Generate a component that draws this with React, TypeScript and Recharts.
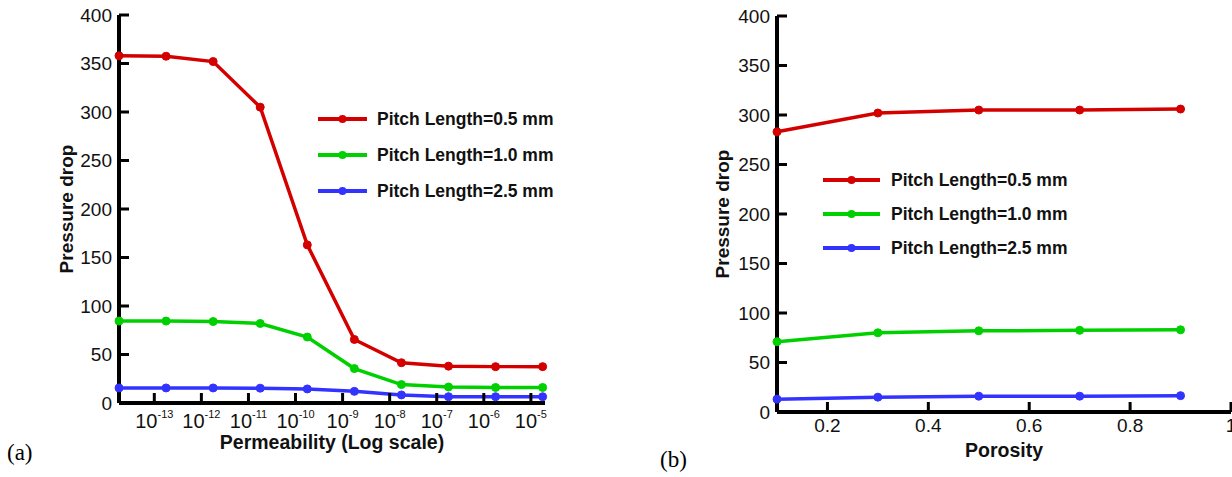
import { LineChart, Line, XAxis, YAxis, Legend, Label } from 'recharts';

const FONT = '"Liberation Sans", Arial, Helvetica, sans-serif';

// (a) permeability, stored as log10 exponent
const permExponent = [-13.75, -12.75, -11.75, -10.75, -9.75, -8.75, -7.75, -6.75, -5.75, -4.75];
const permPitch05 = [358, 357.5, 352, 305, 163, 65.5, 41.5, 38, 37.5, 37.5];
const permPitch10 = [84.5, 84.5, 84, 82, 68, 35.5, 19, 16.5, 16, 16];
const permPitch25 = [15.5, 15.5, 15.5, 15.3, 14.5, 12, 8.3, 6.5, 6.5, 6.5];
const permTicks = [-13, -12, -11, -10, -9, -8, -7, -6, -5];

// (b) porosity
const porosity = [0.1, 0.3, 0.5, 0.7, 0.9];
const poroPitch05 = [283, 302, 305, 305, 306];
const poroPitch10 = [71, 80, 82, 82.5, 83];
const poroPitch25 = [13, 15, 16, 16, 16.5];
const poroTicks = [0.2, 0.4, 0.6, 0.8, 1];

const pressureTicks = [0, 50, 100, 150, 200, 250, 300, 350, 400];

const SERIES = [
  { key: 'p05', name: 'Pitch Length=0.5 mm', color: '#d40000' },
  { key: 'p10', name: 'Pitch Length=1.0 mm', color: '#00d000' },
  { key: 'p25', name: 'Pitch Length=2.5 mm', color: '#3333ff' },
];

const permData = permExponent.map((k, i) => ({
  k,
  p05: permPitch05[i],
  p10: permPitch10[i],
  p25: permPitch25[i],
}));

const poroData = porosity.map((k, i) => ({
  k,
  p05: poroPitch05[i],
  p10: poroPitch10[i],
  p25: poroPitch25[i],
}));

const YTick = ({ x, y, payload }: any) => (
  <g>
    <line x1={x} x2={x + 10} y1={y} y2={y} stroke="#000" strokeWidth={3} />
    <text
      x={x - 7}
      y={y}
      textAnchor="end"
      dominantBaseline="central"
      fontSize={19}
      fontFamily={FONT}
      fill="#111"
    >
      {payload.value}
    </text>
  </g>
);

const PermTick = ({ x, y, payload }: any) => (
  <g>
    <line x1={x} x2={x} y1={y} y2={y - 10} stroke="#000" strokeWidth={3} />
    <text x={x} y={y + 25} textAnchor="middle" fontSize={20} fontFamily={FONT} fill="#111">
      <tspan>10</tspan>
      <tspan dy={-10} fontSize={11}>
        {payload.value}
      </tspan>
    </text>
  </g>
);

const PoroTick = ({ x, y, payload }: any) => (
  <g>
    <line x1={x} x2={x} y1={y} y2={y - 10} stroke="#000" strokeWidth={3} />
    <text
      x={x}
      y={y + 13}
      textAnchor="middle"
      dominantBaseline="central"
      fontSize={19}
      fontFamily={FONT}
      fill="#111"
    >
      {payload.value === 1 ? '1' : payload.value.toFixed(1)}
    </text>
  </g>
);

const yLabel = (dx: number) => (props: any) => {
  const { x, y, height } = props.viewBox;
  const cx = x + dx;
  const cy = y + height / 2;
  return (
    <text
      x={cx}
      y={cy}
      transform={`rotate(-90 ${cx} ${cy})`}
      textAnchor="middle"
      dominantBaseline="central"
      fontSize={19}
      fontWeight="bold"
      fontFamily={FONT}
      fill="#111"
    >
      Pressure drop
    </text>
  );
};

const xLabel = (text: string, dy: number) => (props: any) => {
  const { x, y, width } = props.viewBox;
  return (
    <text
      x={x + width / 2}
      y={y + dy}
      textAnchor="middle"
      dominantBaseline="central"
      fontSize={19.5}
      fontWeight="bold"
      fontFamily={FONT}
      fill="#111"
    >
      {text}
    </text>
  );
};

const legendContent = (lineW: number, rowH: number, gap: number) => (props: any) => (
  <div style={{ fontFamily: FONT }}>
    {(props.payload || []).map((entry: any) => (
      <div key={entry.value} style={{ display: 'flex', alignItems: 'center', height: rowH }}>
        <svg width={lineW} height={10} style={{ display: 'block' }}>
          <line x1={0} x2={lineW} y1={5} y2={5} stroke={entry.color} strokeWidth={4} />
          <circle cx={lineW / 2} cy={5} r={4} fill={entry.color} />
        </svg>
        <span
          style={{
            marginLeft: gap,
            fontSize: 17.5,
            fontWeight: 'bold',
            color: '#111',
            whiteSpace: 'nowrap',
          }}
        >
          {entry.value}
        </span>
      </div>
    ))}
  </div>
);

const axisLine = { stroke: '#000', strokeWidth: 4 };

export default function App() {
  return (
    <div style={{ position: 'absolute', left: 0, top: 0, width: 1232, height: 477, background: '#fff' }}>
      <div style={{ position: 'absolute', left: 0, top: 0 }}>
        <LineChart width={600} height={477} data={permData} margin={{ top: 15, right: 55, bottom: 24, left: 59 }}>
          <XAxis
            dataKey="k"
            type="number"
            domain={[-13.75, -4.7]}
            ticks={permTicks}
            tick={<PermTick />}
            tickLine={false}
            tickSize={0}
            tickMargin={0}
            axisLine={axisLine}
            height={50}
            interval={0}
          >
            <Label content={xLabel('Permeability (Log scale)', 39)} />
          </XAxis>
          <YAxis
            type="number"
            domain={[0, 400]}
            ticks={pressureTicks}
            tick={<YTick />}
            tickLine={false}
            tickSize={0}
            tickMargin={0}
            axisLine={axisLine}
            width={60}
            interval={0}
          >
            <Label content={yLabel(7)} />
          </YAxis>
          <Legend
            layout="vertical"
            align="center"
            verticalAlign="middle"
            wrapperStyle={{ left: 318, top: 101, width: 'auto' }}
            content={legendContent(49, 36, 10)}
          />
          {SERIES.map((s) => (
            <Line
              key={s.key}
              type="linear"
              dataKey={s.key}
              name={s.name}
              stroke={s.color}
              strokeWidth={3.5}
              dot={{ r: 4, fill: s.color, stroke: s.color, strokeWidth: 1 }}
              activeDot={false}
              isAnimationActive={false}
            />
          ))}
        </LineChart>
      </div>
      <div style={{ position: 'absolute', left: 600, top: 0 }}>
        <LineChart width={632} height={477} data={poroData} margin={{ top: 16, right: 1, bottom: 20, left: 117 }}>
          <XAxis
            dataKey="k"
            type="number"
            domain={[0.1, 1]}
            ticks={poroTicks}
            tick={<PoroTick />}
            tickLine={false}
            tickSize={0}
            tickMargin={0}
            axisLine={axisLine}
            height={45}
            interval={0}
          >
            <Label content={xLabel('Porosity', 38)} />
          </XAxis>
          <YAxis
            type="number"
            domain={[0, 400]}
            ticks={pressureTicks}
            tick={<YTick />}
            tickLine={false}
            tickSize={0}
            tickMargin={0}
            axisLine={axisLine}
            width={60}
            interval={0}
          >
            <Label content={yLabel(5)} />
          </YAxis>
          <Legend
            layout="vertical"
            align="center"
            verticalAlign="middle"
            wrapperStyle={{ left: 223, top: 163, width: 'auto' }}
            content={legendContent(57, 34, 11)}
          />
          {SERIES.map((s) => (
            <Line
              key={s.key}
              type="linear"
              dataKey={s.key}
              name={s.name}
              stroke={s.color}
              strokeWidth={3.5}
              dot={{ r: 4, fill: s.color, stroke: s.color, strokeWidth: 1 }}
              activeDot={false}
              isAnimationActive={false}
            />
          ))}
        </LineChart>
      </div>
      <div style={{ position: 'absolute', left: 7, top: 441, fontFamily: '"Liberation Serif", "Times New Roman", serif', fontSize: 23, lineHeight: '24px' }}>
        (a)
      </div>
      <div style={{ position: 'absolute', left: 660, top: 448, fontFamily: '"Liberation Serif", "Times New Roman", serif', fontSize: 23, lineHeight: '24px' }}>
        (b)
      </div>
    </div>
  );
}
